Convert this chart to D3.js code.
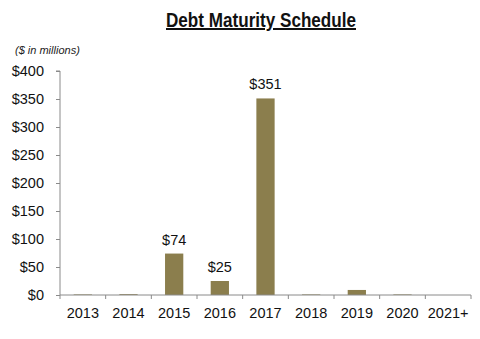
<!DOCTYPE html>
<html><head><meta charset="utf-8">
<script src="https://cdn.jsdelivr.net/npm/d3@7"></script>
<style>body{margin:0;background:#fff;}svg{display:block;}text{font-family:"Liberation Sans",Arial,sans-serif;}</style>
</head><body><svg id="c" width="480" height="339"></svg>
<script>
const categories = ["2013","2014","2015","2016","2017","2018","2019","2020","2021+"];
const values = [1, 1.5, 74, 25, 351, 1, 9, 1, 0];
const labels = [null, null, "$74", "$25", "$351", null, null, null, null];
const yTicks = [0,50,100,150,200,250,300,350,400];
const title = "Debt Maturity Schedule";
const subtitle = "($ in millions)";

const svg = d3.select("#c");
const m = {l:60, r:9, t:71, b:44};
const W = 480, H = 339;
const x = d3.scaleBand().domain(categories).range([m.l, W-m.r]).paddingInner(0.6).paddingOuter(0.3);
const y = d3.scaleLinear().domain([0,400]).range([H-m.b, m.t]);
const axisColor = "#8a8a8a";

// bars
svg.append("g").selectAll("rect").data(values).join("rect")
  .attr("x",(d,i)=>x(categories[i]))
  .attr("width",x.bandwidth())
  .attr("y",d=>y(d))
  .attr("height",d=>y(0)-y(d))
  .attr("fill","#8B7E4D");

// y axis
const ya = svg.append("g").attr("transform",`translate(${m.l},0)`)
  .call(d3.axisLeft(y).tickValues(yTicks).tickFormat(d=>"$"+d).tickSize(4).tickPadding(12));
ya.select(".domain").attr("stroke",axisColor).attr("d",`M-4,${y(400)}H0V${y(0)}`);
ya.selectAll(".tick line").attr("stroke",axisColor);
ya.selectAll(".tick text").attr("font-size",14.5).attr("fill","#111").attr("font-family","Liberation Sans, Arial, sans-serif");

// x axis: ticks at band boundaries
const xa = svg.append("g").attr("transform",`translate(0,${y(0)})`);
xa.append("line").attr("x1",m.l).attr("x2",W-m.r).attr("stroke",axisColor);
const bounds = d3.range(categories.length+1).map(i=>m.l + i*(W-m.r-m.l)/categories.length);
xa.selectAll("line.t").data(bounds).join("line").attr("class","t")
  .attr("x1",d=>d).attr("x2",d=>d).attr("y1",0).attr("y2",4).attr("stroke",axisColor);
xa.selectAll("text").data(categories).join("text")
  .attr("x",d=>x(d)+x.bandwidth()/2).attr("y",23)
  .attr("text-anchor","middle").attr("font-size",14.5).attr("fill","#111").text(d=>d);

// value labels
svg.append("g").selectAll("text").data(values.map((v,i)=>({v,i}))).join("text")
  .filter(d=>labels[d.i])
  .attr("x",d=>x(categories[d.i])+x.bandwidth()/2)
  .attr("y",d=>y(d.v)-9)
  .attr("text-anchor","middle").attr("font-size",14.5).attr("fill","#111")
  .text(d=>labels[d.i]);

// title
svg.append("text").attr("x",261).attr("y",27).attr("text-anchor","middle")
  .attr("font-size",20).attr("font-weight","bold").attr("fill","#111")
  .attr("text-decoration","underline").attr("textLength",190).attr("lengthAdjust","spacingAndGlyphs").text(title);

svg.append("text").attr("x",15).attr("y",54).attr("font-size",11).attr("font-style","italic")
  .attr("fill","#222").text(subtitle);
</script></body></html>
